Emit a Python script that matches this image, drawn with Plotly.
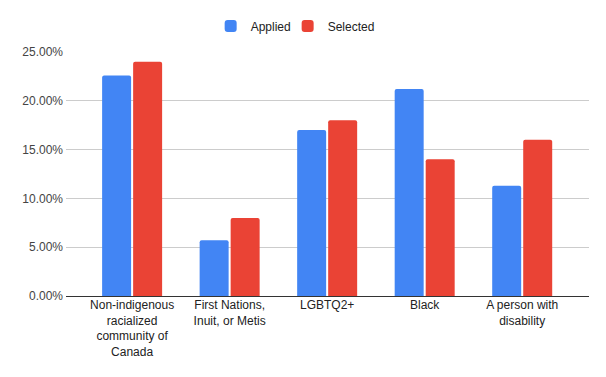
import plotly.graph_objects as go

categories = ["Non-indigenous<br>racialized<br>community of<br>Canada",
              "First Nations,<br>Inuit, or Metis",
              "LGBTQ2+",
              "Black",
              "A person with<br>disability"]
applied = [0.226, 0.057, 0.170, 0.212, 0.113]
selected = [0.240, 0.080, 0.180, 0.140, 0.160]
y_ticks = [0, 0.05, 0.10, 0.15, 0.20, 0.25]

font_family = "Liberation Sans, Arial, sans-serif"

fig = go.Figure()
fig.add_trace(go.Bar(name="Applied", x=categories, y=applied, legend="legend",
                     marker=dict(color="#4285F4", cornerradius=2, line=dict(width=0))))
fig.add_trace(go.Bar(name="Selected", x=categories, y=selected, legend="legend2",
                     marker=dict(color="#EA4335", cornerradius=2, line=dict(width=0))))

leg_common = dict(orientation="h", xanchor="left", y=1.107, yanchor="middle",
                  font=dict(size=12, color="#222222"), itemwidth=30,
                  bgcolor="rgba(0,0,0,0)")

fig.update_layout(
    width=598, height=369,
    margin=dict(l=58, r=17, t=44, b=81, autoexpand=False),
    paper_bgcolor="white", plot_bgcolor="white",
    barmode="group", bargap=0.364, bargroupgap=0.065,
    font=dict(family=font_family, size=12, color="#222222"),
    showlegend=True,
    legend=dict(x=0.2766, **leg_common),
    legend2=dict(x=0.4238, **leg_common),
)
fig.update_xaxes(range=[-0.678, 4.685], showgrid=False, showline=False,
                 ticks="", tickfont=dict(size=12, color="#222222"), fixedrange=True)
fig.update_yaxes(range=[0, 0.25], tickvals=y_ticks, tickformat=".2%",
                 showgrid=True, gridcolor="#cccccc", gridwidth=1,
                 zeroline=True, zerolinecolor="#333333", zerolinewidth=1,
                 showline=False, ticks="", ticklen=0, ticklabelstandoff=2,
                 tickfont=dict(size=12, color="#444444"))

fig.write_html("out.html")
